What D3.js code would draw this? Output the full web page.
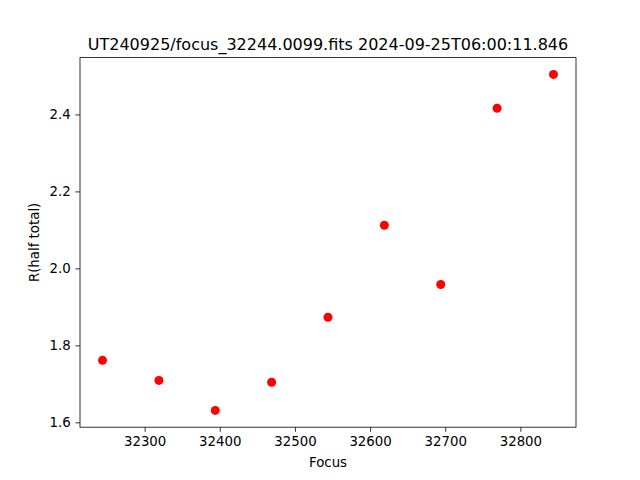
<!DOCTYPE html>
<html><head><meta charset="utf-8">
<script src="https://cdn.jsdelivr.net/npm/d3@7"></script>
<style>body{margin:0;background:#fff}svg{display:block}text{font-family:"DejaVu Sans",sans-serif;fill:#000}</style>
</head><body>
<svg id="c" width="640" height="480"></svg>
<script>
const focus = [32244, 32319, 32394, 32469, 32544, 32619, 32694, 32769, 32844];
const rHalf = [1.761, 1.709, 1.631, 1.704, 1.873, 2.112, 1.958, 2.416, 2.504];
const xTicks = [32300, 32400, 32500, 32600, 32700, 32800];
const yTicks = [1.6, 1.8, 2.0, 2.2, 2.4];
const title = "UT240925/focus_32244.0099.fits 2024-09-25T06:00:11.846";

const W = 640, H = 480;
const L = 80, R = 576, T = 57.6, B = 427.2;
const svg = d3.select("#c");
svg.append("rect").attr("width", W).attr("height", H).attr("fill", "#fff");

function padded(arr) {
  const mn = d3.min(arr), mx = d3.max(arr), m = (mx - mn) * 0.05;
  return [mn - m, mx + m];
}
const x = d3.scaleLinear().domain(padded(focus)).range([L, R]);
const y = d3.scaleLinear().domain(padded(rHalf)).range([B, T]);

const tickLen = 4.67, pad = 4.67;
const xAxis = d3.axisBottom(x).tickValues(xTicks).tickSize(tickLen).tickPadding(pad).tickFormat(d3.format("d"));
const yAxis = d3.axisLeft(y).tickValues(yTicks).tickSize(tickLen).tickPadding(pad).tickFormat(d3.format(".1f"));

const gx = svg.append("g").attr("transform", `translate(0,${B})`).call(xAxis);
const gy = svg.append("g").attr("transform", `translate(${L},0)`).call(yAxis);
[gx, gy].forEach(g => {
  g.select(".domain").remove();
  g.selectAll(".tick line").attr("stroke", "#000").attr("stroke-width", 0.8);
  g.selectAll(".tick text").attr("font-size", "13.33px").attr("font-family", "DejaVu Sans").attr("fill", "#000");
});

// frame
svg.append("rect").attr("x", L).attr("y", T).attr("width", R - L).attr("height", B - T)
  .attr("fill", "none").attr("stroke", "#000").attr("stroke-width", 0.8);

svg.append("g").selectAll("circle").data(focus).join("circle")
  .attr("cx", (d) => x(d)).attr("cy", (d, i) => y(rHalf[i])).attr("r", 4.5).attr("fill", "#ff0000");

svg.append("text").attr("x", (L + R) / 2).attr("y", 50).attr("text-anchor", "middle")
  .attr("font-size", "16px").text(title);
svg.append("text").attr("x", (L + R) / 2).attr("y", 467).attr("text-anchor", "middle")
  .attr("font-size", "13.33px").text("Focus");
svg.append("text").attr("transform", `translate(39,${(T + B) / 2}) rotate(-90)`).attr("text-anchor", "middle")
  .attr("font-size", "13.33px").text("R(half total)");
</script>
</body></html>
